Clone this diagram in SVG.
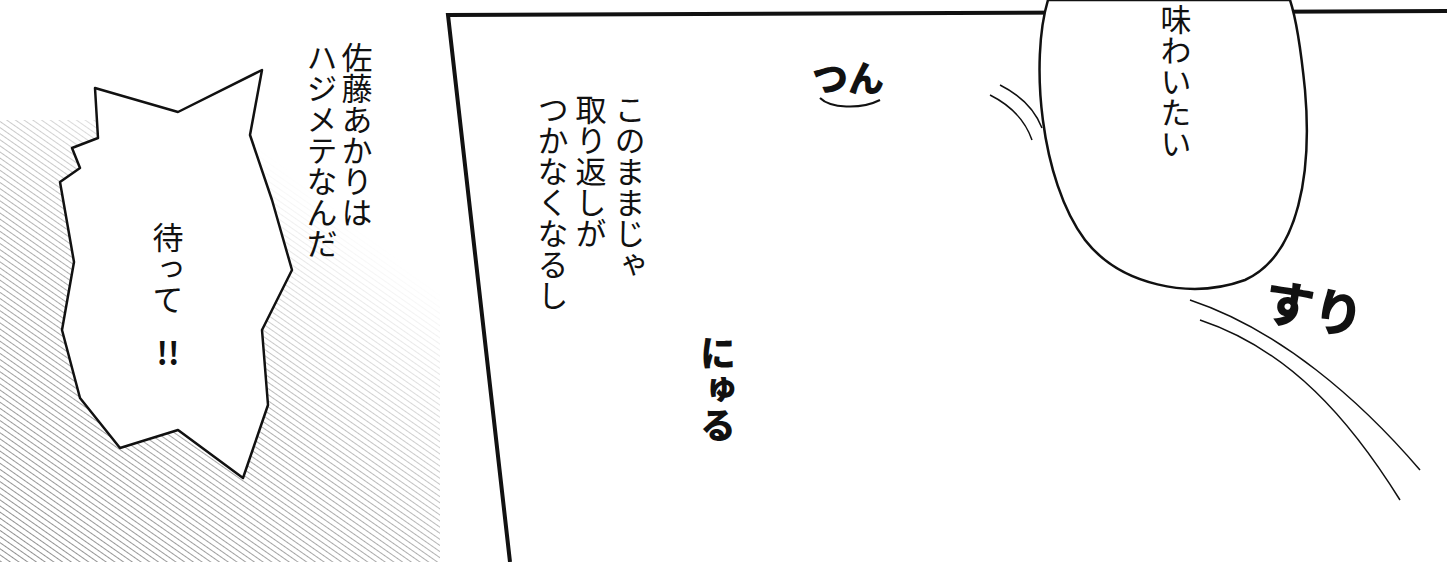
<svg xmlns="http://www.w3.org/2000/svg" width="1447" height="562" viewBox="0 0 1447 562">
  <defs>
    <style>
      .vt { font-family: "Noto Sans CJK JP", "Noto Sans", sans-serif; font-size: 31px; fill: #111; writing-mode: vertical-rl; }
      .ht { font-family: "Noto Sans CJK JP", "Noto Sans", sans-serif; font-size: 31px; fill: #111; }
      .sfx { font-family: "Noto Sans CJK JP", "Noto Sans", sans-serif; font-weight: 900; fill: #111; }
      .bubble { fill: #fff; stroke: #111; stroke-width: 2.5; stroke-linejoin: round; }
      .frame { fill: none; stroke: #111; stroke-width: 4; }
    </style>
    <pattern id="hatch" width="5" height="5" patternUnits="userSpaceOnUse" patternTransform="rotate(-55)">
      <line x1="0" y1="0" x2="0" y2="5" stroke="#555" stroke-width="1.3"/>
    </pattern>
    <linearGradient id="fade" gradientUnits="userSpaceOnUse" x1="40" y1="560" x2="380" y2="140">
      <stop offset="0" stop-color="#fff"/>
      <stop offset="0.45" stop-color="#bbb"/>
      <stop offset="0.85" stop-color="#000"/>
    </linearGradient>
    <mask id="hmask" maskUnits="userSpaceOnUse" x="0" y="0" width="1447" height="562">
      <rect x="0" y="0" width="460" height="562" fill="url(#fade)"/>
    </mask>
  </defs>

  <rect x="0" y="0" width="1447" height="562" fill="#fff"/>

  <!-- left hatching -->
  <g id="hatching">
    <rect x="0" y="120" width="440" height="442" fill="url(#hatch)" mask="url(#hmask)"/>
  </g>

  <!-- panel frame -->
  <g id="panel">
    <polyline class="frame" points="510,562 448,15 1447,11"/>
  </g>

  <!-- burst bubble -->
  <g id="burst">
    <path class="bubble" d="M95,88 L178,112 L262,70 L250,135 L272,200 L292,270 L262,330 L268,405 L243,478 L178,430 L120,448 L80,398 L62,330 L74,262 L60,182 L80,168 L72,148 L98,138 Z"/>
    <text class="vt" x="168" y="222">待って</text>
    <text class="ht" x="168" y="365" text-anchor="middle" font-weight="bold">!!</text>
  </g>

  <!-- narration left -->
  <g id="narration1">
    <text class="vt" x="357" y="42">佐藤あかりは</text>
    <text class="vt" x="322" y="42">ハジメテなんだ</text>
  </g>

  <!-- narration middle -->
  <g id="narration2">
    <text class="vt" x="630" y="94">このままじゃ</text>
    <text class="vt" x="591" y="94">取り返しが</text>
    <text class="vt" x="553" y="94">つかなくなるし</text>
  </g>

  <!-- top right speech bubble -->
  <g id="speech">
    <path class="bubble" d="M1048,0 C1030,60 1040,180 1085,240 C1120,285 1190,300 1245,280 C1300,255 1312,170 1305,90 C1300,40 1295,15 1290,0 Z"/>
    <text class="vt" x="1176" y="4">味わいたい</text>
  </g>

  <!-- sound effects -->
  <g id="sfx">
    <text class="sfx" x="812" y="92" font-size="36">つん</text>
    <path d="M820,98 C830,108 860,110 880,100" fill="none" stroke="#111" stroke-width="2"/>
    <text class="sfx" x="718" y="335" font-size="36" style="writing-mode:vertical-rl">にゅる</text>
    <text class="sfx" x="1265" y="325" font-size="50" transform="rotate(10 1300 300)">すり</text>
  </g>

  <!-- speed lines -->
  <g id="connectors">
    <path d="M990,95 C1010,105 1025,120 1032,140" fill="none" stroke="#111" stroke-width="1.5"/>
    <path d="M1000,85 C1020,95 1035,110 1042,128" fill="none" stroke="#111" stroke-width="1.5"/>
    <path d="M1190,300 C1280,330 1360,400 1420,470" fill="none" stroke="#111" stroke-width="1.5"/>
    <path d="M1200,320 C1290,350 1350,420 1400,500" fill="none" stroke="#111" stroke-width="1.5"/>
  </g>
</svg>
